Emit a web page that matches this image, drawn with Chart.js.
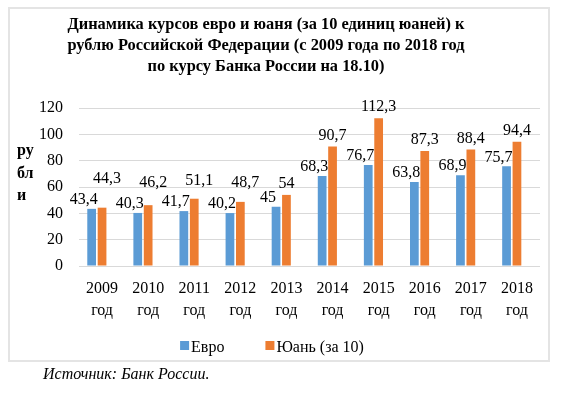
<!DOCTYPE html>
<html>
<head>
<meta charset="utf-8">
<script src="https://cdn.jsdelivr.net/npm/chart.js@4.4.0/dist/chart.umd.min.js"></script>
<style>
body { margin: 0; background: #fff; }
canvas { position: absolute; left: 0; top: 0; }
#frame { position: absolute; left: 8px; top: 7px; width: 542px; height: 355px; box-sizing: border-box; border: 2px solid #e4e4e4; pointer-events: none; }
#src { position: absolute; left: 43px; top: 364px; font: italic 16px "Liberation Serif", serif; line-height: 20px; color: #000; }
</style>
</head>
<body>
<canvas id="chart" width="588" height="394"></canvas>
<div id="frame"></div>
<div id="src">Источник: Банк России.</div>
<script>
const years = ['2009', '2010', '2011', '2012', '2013', '2014', '2015', '2016', '2017', '2018'];
const euro = [43.4, 40.3, 41.7, 40.2, 45, 68.3, 76.7, 63.8, 68.9, 75.7];
const yuan = [44.3, 46.2, 51.1, 48.7, 54, 90.7, 112.3, 87.3, 88.4, 94.4];
const seriesNames = ['Евро', 'Юань (за 10)'];
const titleLines = [
  'Динамика курсов евро и юаня (за 10 единиц юаней) к',
  'рублю Российской Федерации (с 2009 года по 2018 год',
  'по курсу Банка России на 18.10)'
];
const yTitle = ['ру', 'бл', 'и'];

const serif = '"Liberation Serif", "Times New Roman", serif';

// title, vertical axis caption and legend, drawn on the canvas
const captions = {
  id: 'captions',
  afterDraw(chart) {
    const ctx = chart.ctx;
    ctx.save();
    ctx.fillStyle = '#000';
    ctx.textBaseline = 'middle';
    ctx.font = 'bold 16.4px ' + serif;
    ctx.textAlign = 'center';
    titleLines.forEach((t, i) => ctx.fillText(t, 266, 25 + i * 21));
    ctx.font = 'bold 16px ' + serif;
    ctx.textAlign = 'left';
    yTitle.forEach((t, i) => ctx.fillText(t, 17, 151 + i * 22.5));

    // legend
    ctx.font = '16px ' + serif;
    const sets = chart.data.datasets.filter(d => d.label);
    const widths = sets.map(d => 11 + ctx.measureText(d.label).width);
    const gap = 41;
    const total = widths.reduce((a, b) => a + b, 0) + gap * (sets.length - 1);
    let x = 272 - total / 2;
    sets.forEach((d, i) => {
      ctx.fillStyle = d.backgroundColor;
      ctx.fillRect(x, 341, 9, 9);
      ctx.fillStyle = '#000';
      ctx.fillText(d.label, x + 11, 348);
      x += widths[i] + gap;
    });
    ctx.restore();
  }
};

// value labels above bars, yuan label moved up when it hits the euro one
const valueLabels = {
  id: 'valueLabels',
  afterDatasetsDraw(chart) {
    const ctx = chart.ctx;
    ctx.save();
    ctx.font = '16px ' + serif;
    ctx.fillStyle = '#000';
    ctx.textAlign = 'center';
    ctx.textBaseline = 'middle';
    const boxes = [];
    [0, 1].forEach(di => {
      const meta = chart.getDatasetMeta(di);
      meta.data.forEach((bar, i) => {
        const txt = String(chart.data.datasets[di].data[i]).replace('.', ',');
        const w = ctx.measureText(txt).width;
        let x, y;
        if (di === 0) {
          x = bar.x - 8;
          y = bar.y - 9;
          boxes[i] = { l: x - w / 2, r: x + w / 2, t: y - 8 };
        } else {
          x = bar.x;
          y = bar.y - 11;
          const b = boxes[i];
          if (b && x - w / 2 < b.r && y + 8 > b.t) {
            y = b.t - 13;
            x += 5;
          }
        }
        ctx.fillText(txt, x, y);
      });
    });
    ctx.restore();
  }
};

new Chart(document.getElementById('chart'), {
  type: 'bar',
  data: {
    labels: years.map(y => [y, 'год']),
    datasets: [
      { label: seriesNames[0], data: euro, backgroundColor: '#5b9bd5' },
      { label: seriesNames[1], data: yuan, backgroundColor: '#ed7d31' },
      { label: '', data: [], backgroundColor: 'rgba(0,0,0,0)' }
    ]
  },
  options: {
    responsive: false,
    animation: false,
    categoryPercentage: 0.677,
    barPercentage: 0.84,
    layout: { padding: { top: 108, left: 10, right: 48, bottom: 70 } },
    plugins: {
      title: { display: false },
      tooltip: { enabled: false },
      legend: { display: false }
    },
    scales: {
      x: {
        grid: { display: false },
        border: { display: false },
        ticks: { color: '#000', padding: 4, font: { family: serif, size: 16, lineHeight: 1.375 }, maxRotation: 0 },
        afterFit: s => { s.height = 58; }
      },
      y: {
        min: 0,
        max: 120,
        grid: { color: '#d9d9d9', drawTicks: false },
        border: { display: false },
        ticks: { stepSize: 20, color: '#000', padding: 16, font: { family: serif, size: 16 } },
        afterFit: s => { s.width = 69; }
      }
    }
  },
  plugins: [captions, valueLabels]
});
</script>
</body>
</html>
